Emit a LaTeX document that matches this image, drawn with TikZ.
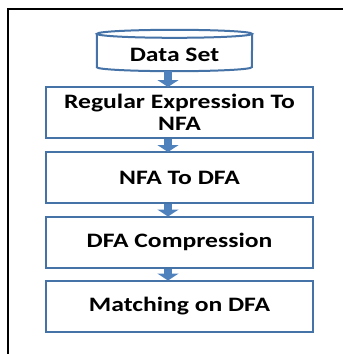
\documentclass[tikz,border=0pt]{standalone}
\usepackage{fontspec}
\setmainfont[FakeStretch=1.25]{Carlito}
\usepackage{xcolor}
\usepackage{tikz}
\usetikzlibrary{positioning, arrows.meta, shapes.geometric}

\definecolor{boxblue}{RGB}{69,114,167}
\definecolor{flowblue}{RGB}{79,129,189}

\tikzset{
  stage/.style={draw=boxblue, line width=2pt, minimum width=267pt, minimum height=51pt,
    inner sep=0pt, align=center, font=\fontsize{20.5}{22}\selectfont\bfseries},
  flow/.style={draw=boxblue, line width=8pt, -{Triangle[width=21pt, length=7pt]}}
}

\begin{document}
\begin{tikzpicture}[x=1pt, y=-1pt]
  \useasboundingbox (0,0) rectangle (343,354);
  % Frame
  \draw[line width=2.8pt, line join=miter] (343,9) -- (8,9) -- (8,354);
  % Data source
  \node[minimum width=155pt, minimum height=33pt, inner sep=0pt,
        font=\fontsize{20.5}{22}\selectfont\bfseries] (data) at (174.5,54.5) {Data Set};
  \draw[boxblue, line width=2pt]
    ([yshift=4pt]data.north west) -- ([yshift=4pt]data.south west)
    arc[start angle=180, end angle=360, x radius=77.5pt, y radius=4pt]
    -- ([yshift=4pt]data.north east);
  \draw[boxblue, line width=2pt] ([yshift=4pt]data.north) ellipse[x radius=77.5pt, y radius=4pt];
  % Stages
  \node[stage] (regex) at (179.5,112.5) {Regular Expression To\\NFA};
  \node[stage] (nfa) at (179.5,177.5) {NFA To DFA};
  \node[stage] (comp) at (179.5,242) {DFA Compression};
  \node[stage] (match) at (179.5,306) {Matching on DFA};
  % Flow arrows
  \draw[flow, draw=flowblue] ([xshift=-6.5pt]data.south) -- ([xshift=-11.5pt,yshift=-1pt]regex.north);
  \foreach \a/\b in {regex/nfa, nfa/comp, comp/match}
    \draw[flow, draw=flowblue] ([xshift=-11.5pt]\a.south) -- ([xshift=-11.5pt,yshift=-1pt]\b.north);
\end{tikzpicture}
\end{document}
